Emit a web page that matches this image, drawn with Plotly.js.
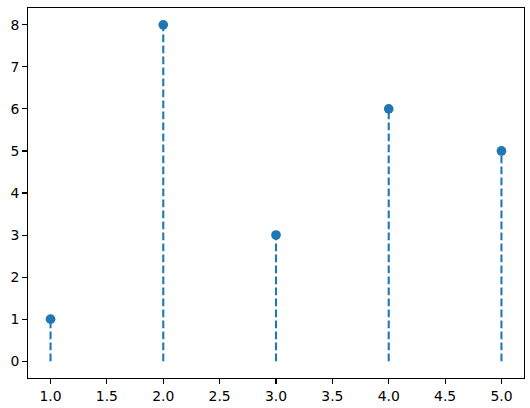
<!DOCTYPE html>
<html>
<head>
<meta charset="utf-8">
<script src="https://cdn.plot.ly/plotly-3.0.1.min.js"></script>
<style>html,body{margin:0;padding:0;background:#fff;}#chart{width:530px;height:408px;}</style>
</head>
<body>
<div id="chart"></div>
<script>
const xValues = [1, 2, 3, 4, 5];
const yValues = [1, 8, 3, 6, 5];
const baseValue = 0;

const stemX = [], stemY = [];
xValues.forEach((x, i) => { stemX.push(x, x, null); stemY.push(baseValue, yValues[i], null); });

const color = '#1f77b4';
const traces = [
  { x: stemX, y: stemY, mode: 'lines', type: 'scatter', hoverinfo: 'skip',
    line: { color: color, width: 2.08, dash: '7.7px,3.3px' } },
  { x: xValues, y: yValues, mode: 'markers', type: 'scatter',
    marker: { color: color, size: 9.7, line: { width: 0 } } }
];

const axisCommon = {
  showgrid: false, zeroline: false, showline: true, mirror: true,
  linecolor: '#000', linewidth: 1.1, ticks: 'outside', ticklen: 4.9,
  tickwidth: 1.1, tickcolor: '#000',
  tickfont: { family: 'DejaVu Sans', size: 13.9, color: '#000' }
};

const layout = {
  width: 530, height: 408,
  margin: { l: 27.5, r: 5.5, t: 8.2, b: 30.2 },
  paper_bgcolor: '#fff', plot_bgcolor: '#fff',
  showlegend: false,
  xaxis: Object.assign({}, axisCommon, { range: [0.8, 5.2], dtick: 0.5, tick0: 1, tickformat: '.1f' }),
  yaxis: Object.assign({}, axisCommon, { range: [-0.4, 8.4], dtick: 1, tick0: 0 })
};

Plotly.newPlot('chart', traces, layout, { displayModeBar: false, staticPlot: true });
</script>
</body>
</html>
